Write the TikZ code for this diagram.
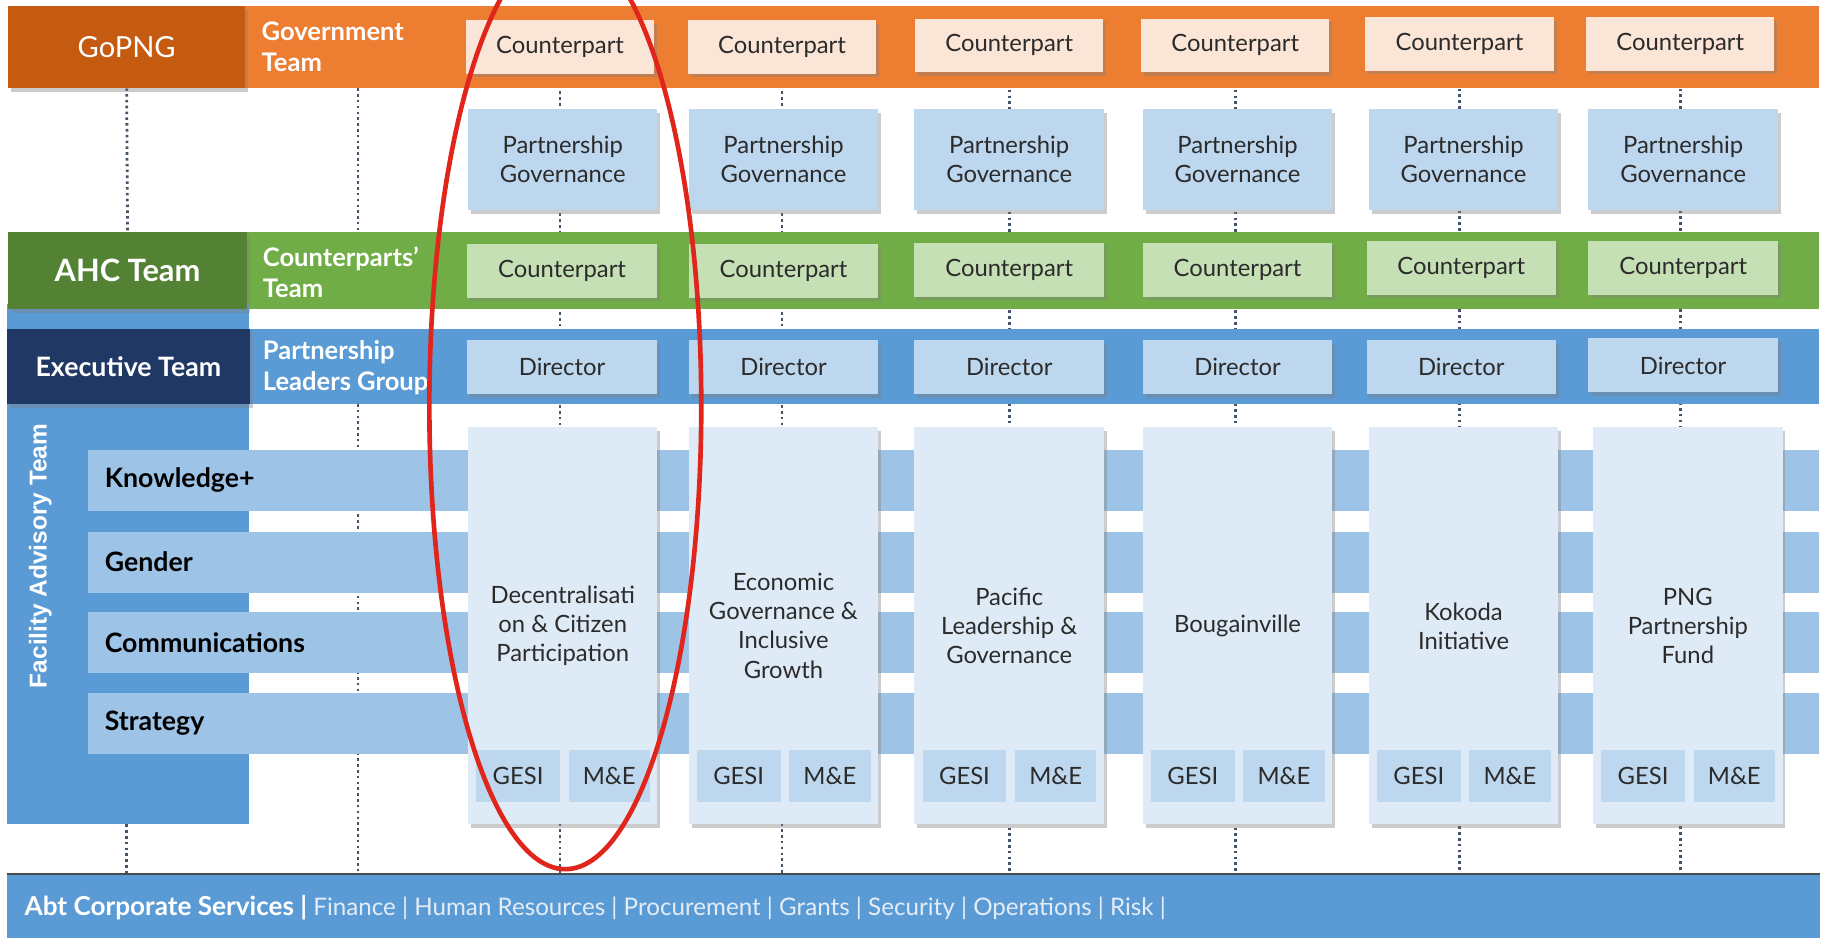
\documentclass[tikz,border=0pt]{standalone}
\usepackage{fontspec}
\setmainfont{Lato}
\newfontfamily\arialf{Liberation Sans}
\usetikzlibrary{shadows,shapes.geometric}
\pgfdeclarelayer{bg}
\pgfsetlayers{bg,main}
\definecolor{gopngc}{HTML}{C55A11}
\definecolor{orangec}{HTML}{ED7D31}
\definecolor{cptopc}{HTML}{FBE5D6}
\definecolor{pgc}{HTML}{BDD7EE}
\definecolor{ahcc}{HTML}{548235}
\definecolor{greenc}{HTML}{70AD47}
\definecolor{cpgreenc}{HTML}{C5E0B4}
\definecolor{navyc}{HTML}{203864}
\definecolor{bluec}{HTML}{5B9BD5}
\definecolor{barc}{HTML}{9DC3E6}
\definecolor{progc}{HTML}{DEEBF7}
\definecolor{txtc}{HTML}{2B2B2B}
\definecolor{dotc}{HTML}{44546A}
\definecolor{lightw}{HTML}{E4EDF7}
\definecolor{ellc}{HTML}{E0261C}
\newcommand\myfs[2]{\fontsize{#1}{#2}\selectfont}
\begin{document}
\begin{tikzpicture}[x=1pt,y=-1pt,
  shad/.style={drop shadow={opacity=0.4,shadow xshift=2.5pt,shadow yshift=-3pt}},
  band/.style={anchor=north west,inner sep=0,outer sep=0},
  cbox/.style={shad,inner sep=0,align=center,text=txtc,minimum width=162pt,font=\myfs{20.5}{25}},
  cptop/.style={cbox,fill=cptopc,minimum height=46pt},
  pgbox/.style={cbox,fill=pgc,minimum width=163pt,minimum height=87pt},
  cpgreen/.style={cbox,fill=cpgreenc,minimum width=163pt,minimum height=46.5pt},
  dirbox/.style={cbox,fill=pgc,minimum width=163pt,minimum height=46.5pt},
  progbox/.style={cbox,fill=progc,minimum width=163pt,minimum height=341.7pt},
  subbox/.style={inner sep=0,fill=pgc,minimum width=72pt,minimum height=45pt,text=txtc,font=\myfs{20.5}{24}},
  headbox/.style={band,shad,text=white},
  bandlbl/.style={anchor=west,align=left,text=white,inner sep=0,font=\bfseries\myfs{22}{27}},
  barlbl/.style={anchor=west,inner sep=0,text=black,font=\bfseries\myfs{23}{26}},
  dots/.style={draw=dotc,line width=2.4pt,dash pattern=on 2.2pt off 2.8pt}]
\useasboundingbox (0,0) rectangle (1568,807.2);

% bands
\node[band,fill=orangec,minimum width=1558pt,minimum height=70.8pt] (govband) at (7,5.2) {};
\node[band,fill=greenc,minimum width=1558pt,minimum height=66pt] (greenband) at (7,200) {};
\node[band,fill=bluec,minimum width=208.4pt,minimum height=447.5pt] (fat) at (6,262) {};
\node[band,fill=bluec,minimum width=1559pt,minimum height=64.7pt] (plgband) at (6,283) {};
\node[band,fill=bluec,minimum width=1560pt,minimum height=56pt] (abt) at (6,752) {};
\draw[black!70,line width=1.2pt] (abt.north west) -- (abt.north east);

% head boxes
\node[headbox,fill=gopngc,minimum width=204pt,minimum height=70.8pt,font=\myfs{25}{30}] (gopng) at (7,5.2) {GoPNG};
\node[headbox,fill=ahcc,minimum width=205.5pt,minimum height=66pt,font=\bfseries\myfs{26.5}{30}] (ahc) at (7,200) {AHC Team};
\node[headbox,fill=navyc,minimum width=209pt,minimum height=64.7pt,font=\bfseries\myfs{23}{26}] (exec) at (6,283) {Executive Team};

\node[bandlbl] (govlbl) at (225,40) {Government\\Team};
\node[bandlbl] (cplbl) at (226,234.5) {Counterparts’\\Team};
\node[bandlbl] (plglbl) at (226,316.5) {Partnership\\Leaders Group};

\node[rotate=90,text=white,inner sep=0,font=\arialf\bfseries\myfs{21}{26}] (fatlbl) at (34.6,478.5) {Facility Advisory Team};

% bars
\foreach \n/\t/\l in {kb/387/Knowledge+,gb/457.5/Gender,cb/527/Communications,sb/596.5/Strategy}{
  \node[band,fill=barc,minimum width=1489pt,minimum height=52.5pt] (\n) at (76,\t) {};
  \node[barlbl] (\n lbl) at ([xshift=14pt]\n.west) {\l};
}

% columns
\foreach \i/\x/\y in {1/482/40.5,2/673/40.5,3/868.5/39,4/1063/39,5/1256/38,6/1446/38}{
  \node[cptop] (ct\i) at (\x,\y) {Counterpart};
}
\foreach \i/\x in {1/484.3,2/674.3,3/868.5,4/1065,5/1259.5,6/1448.5}{
  \node[pgbox] (pg\i) at (\x,137.5) {Partnership\\Governance};
}
\foreach \i/\x/\y in {1/483.7/233,2/674.3/233,3/868.5/232,4/1065/232,5/1257.5/230.5,6/1448.5/230.5}{
  \node[cpgreen] (cg\i) at (\x,\y) {Counterpart};
}
\foreach \i/\x/\y in {1/483.7/316,2/674.3/316,3/868.5/316,4/1065/316,5/1257.5/316,6/1448.5/314.5}{
  \node[dirbox] (dir\i) at (\x,\y) {Director};
}
\foreach \i/\x/\t in {1/484.3/{Decentralisati\\on \& Citizen\\Participation},
                      2/674.2/{Economic\\Governance \&\\Inclusive\\Growth},
                      3/868.5/{Pacific\\Leadership \&\\Governance},
                      4/1065/{Bougainville},
                      5/1259.5/{Kokoda\\Initiative},
                      6/1452.5/{PNG\\Partnership\\Fund}}{
  \node[progbox] (prog\i) at (\x,538.6) {\t};
  \node[subbox] (gesi\i) at ([xshift=-38.5pt]prog\i.center |- 0,668) {GESI};
  \node[subbox,minimum width=70pt] (me\i) at ([xshift=40pt]prog\i.center |- 0,668) {M\&E};
}

% bottom text
\node[anchor=west,inner sep=0,text=white,font=\myfs{20.8}{24}] (abtlbl) at (21,781)
  {{\bfseries\myfs{22.5}{24}Abt Corporate Services |} \textcolor{lightw}{Finance | Human Resources | Procurement | Grants | Security | Operations | Risk |}};

% dotted connectors
\coordinate (l2a) at (308,76);
\coordinate (l2b) at (308,200);
\coordinate (l2c) at (308,347.7);
\coordinate (l2d) at (308,752);
\begin{pgfonlayer}{bg}
  \draw[dots] (gopng.south) -- (ahc.north);
  \draw[dots] (fat.south -| gopng.south) -- (abt.north -| gopng.south);
  \draw[dots] (l2a) -- (l2b);
  \draw[dots] (l2c) -- (l2d);
  \foreach \i in {1,...,6}{
    \draw[dots] (ct\i.south) -- (ct\i.south |- abt.north);
  }
\end{pgfonlayer}

% highlight
\node[draw=ellc,ellipse,line width=4pt,inner sep=0,minimum width=234pt,minimum height=797pt] (hl) at (486.5,349.5) {};
\end{tikzpicture}
\end{document}
